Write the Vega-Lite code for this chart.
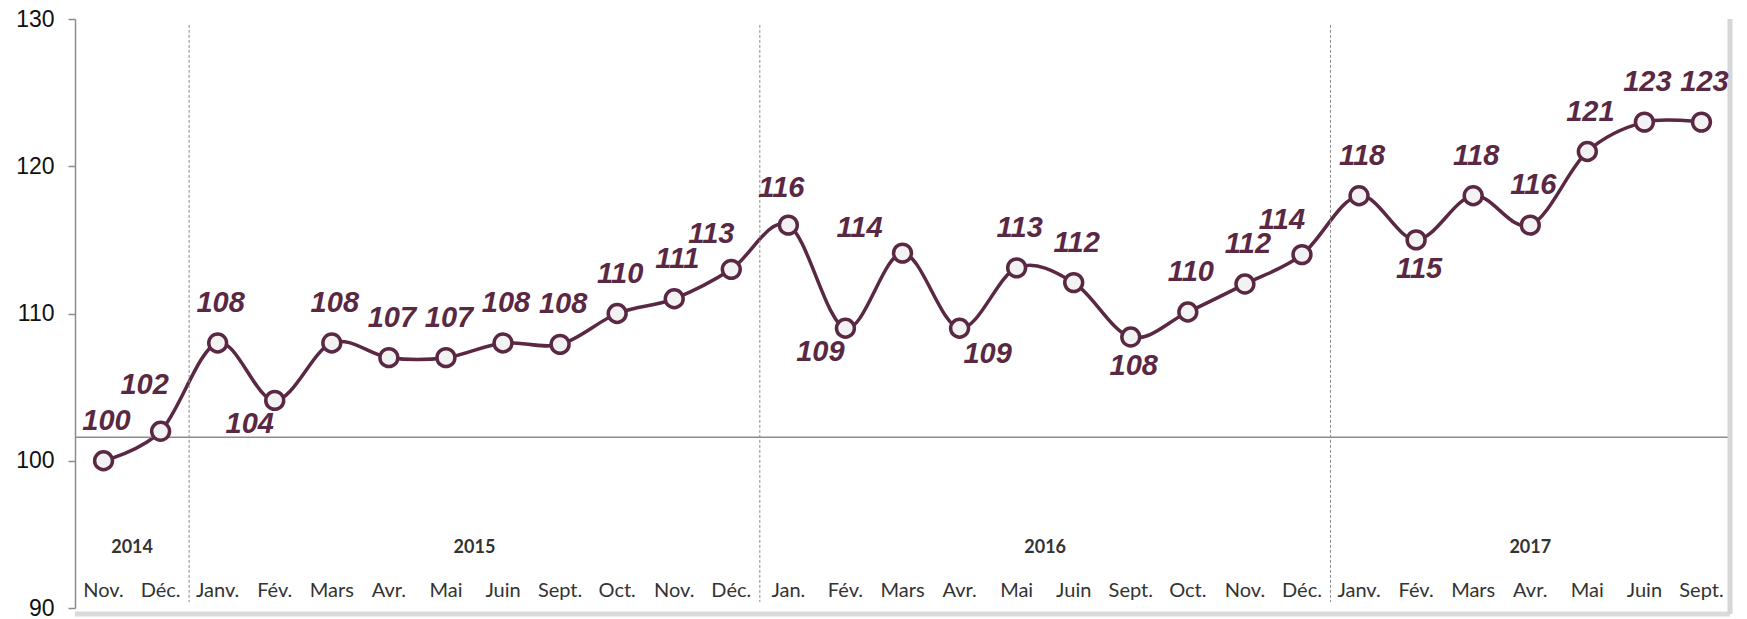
{
  "$schema": "https://vega.github.io/schema/vega-lite/v6.json",
  "width": 1655,
  "height": 589,
  "autosize": {"type": "none"},
  "padding": {"left": 75, "top": 19, "right": 17, "bottom": 11},
  "background": "white",
  "config": {
    "view": {"stroke": null},
    "text": {"font": "Liberation Sans", "fontSize": 29, "fontStyle": "italic", "fontWeight": "bold", "color": "#5a2843", "baseline": "middle", "align": "center"},
    "axisX": {"orient": "bottom", "title": null, "domain": false, "ticks": false, "tickSize": 0, "labelPadding": 0, "offset": -18,
              "labelBaseline": "middle", "labelAngle": 0, "labelFont": "Lato", "labelFontSize": 20, "labelColor": "#333333",
              "labelOverlap": false, "grid": false}
  },
  "datasets": {
    "indice": [
      {"periode": "Nov. 2014", "valeur": 100, "place": "haut"},
      {"periode": "Déc. 2014", "valeur": 102, "place": "haut-gauche-haut"},
      {"periode": "Janv. 2015", "valeur": 108, "place": "haut"},
      {"periode": "Fév. 2015", "valeur": 104.1, "place": "bas-gauche"},
      {"periode": "Mars 2015", "valeur": 108, "place": "haut"},
      {"periode": "Avr. 2015", "valeur": 107, "place": "haut"},
      {"periode": "Mai 2015", "valeur": 107, "place": "haut"},
      {"periode": "Juin 2015", "valeur": 108, "place": "haut"},
      {"periode": "Sept. 2015", "valeur": 107.9, "place": "haut"},
      {"periode": "Oct. 2015", "valeur": 110, "place": "haut"},
      {"periode": "Nov. 2015", "valeur": 111, "place": "haut"},
      {"periode": "Déc. 2015", "valeur": 113, "place": "haut-gauche"},
      {"periode": "Jan. 2016", "valeur": 116, "place": "haut-peu-gauche"},
      {"periode": "Fév. 2016", "valeur": 109, "place": "bas-gauche"},
      {"periode": "Mars 2016", "valeur": 114.1, "place": "gauche"},
      {"periode": "Avr. 2016", "valeur": 109, "place": "bas-droite"},
      {"periode": "Mai 2016", "valeur": 113.1, "place": "haut"},
      {"periode": "Juin 2016", "valeur": 112.1, "place": "haut"},
      {"periode": "Sept. 2016", "valeur": 108.4, "place": "bas"},
      {"periode": "Oct. 2016", "valeur": 110.1, "place": "haut"},
      {"periode": "Nov. 2016", "valeur": 112, "place": "haut"},
      {"periode": "Déc. 2016", "valeur": 114, "place": "haut-gauche"},
      {"periode": "Janv. 2017", "valeur": 118, "place": "haut"},
      {"periode": "Fév. 2017", "valeur": 115, "place": "bas"},
      {"periode": "Mars 2017", "valeur": 118, "place": "haut"},
      {"periode": "Avr. 2017", "valeur": 116, "place": "haut"},
      {"periode": "Mai 2017", "valeur": 121, "place": "haut"},
      {"periode": "Juin 2017", "valeur": 123, "place": "haut"},
      {"periode": "Sept. 2017", "valeur": 123, "place": "haut"}
    ],
    "annees": [
      {"annee": "2014", "debut": "Nov. 2014", "centre": "Déc. 2014", "fin": "Déc. 2014"},
      {"annee": "2015", "debut": "Janv. 2015", "centre": "Juin 2015", "fin": "Déc. 2015"},
      {"annee": "2016", "debut": "Jan. 2016", "centre": "Juin 2016", "fin": "Déc. 2016"},
      {"annee": "2017", "debut": "Janv. 2017", "centre": "Avr. 2017", "fin": "Sept. 2017"}
    ]
  },
  "layer": [
    {
      "data": {"name": "indice"},
      "mark": {"type": "line", "color": "#5a2843", "strokeWidth": 3.5, "interpolate": "cardinal"},
      "encoding": {
        "x": {"field": "periode", "type": "nominal",
              "scale": {"type": "band", "paddingInner": 0, "paddingOuter": 0,
                        "domain": ["Nov. 2014", "Déc. 2014", "Janv. 2015", "Fév. 2015", "Mars 2015", "Avr. 2015", "Mai 2015", "Juin 2015", "Sept. 2015", "Oct. 2015", "Nov. 2015", "Déc. 2015", "Jan. 2016", "Fév. 2016", "Mars 2016", "Avr. 2016", "Mai 2016", "Juin 2016", "Sept. 2016", "Oct. 2016", "Nov. 2016", "Déc. 2016", "Janv. 2017", "Fév. 2017", "Mars 2017", "Avr. 2017", "Mai 2017", "Juin 2017", "Sept. 2017"]},
              "axis": {"title": null, "labelExpr": "split(datum.label, ' ')[0]"}},
        "y": {"field": "valeur", "type": "quantitative",
              "scale": {"domain": [90, 130], "nice": false, "zero": false},
              "axis": {"title": null, "values": [90, 100, 110, 120, 130], "grid": false, "domainColor": "#8c8c8c", "domainWidth": 1.5,
                       "tickColor": "#8c8c8c", "tickWidth": 1.5, "tickSize": 7, "labelPadding": 14,
                       "labelFont": "Liberation Sans", "labelFontSize": 23, "labelColor": "#111111"}}
      }
    },
    {
      "data": {"values": [{}]},
      "mark": {"type": "rule", "color": "#8c8c8c", "strokeWidth": 1.5},
      "encoding": {"y": {"datum": 101.6, "type": "quantitative"}}
    },
    {
      "data": {"values": [{}]},
      "mark": {"type": "rule", "color": "#dadada", "strokeWidth": 5},
      "encoding": {"y": {"datum": 89.6, "type": "quantitative"}}
    },
    {
      "data": {"name": "annees"},
      "transform": [{"filter": "datum.annee === '2017'"}],
      "mark": {"type": "rule", "color": "#d6d6d6", "strokeWidth": 5},
      "encoding": {
        "x": {"field": "fin", "type": "nominal", "bandPosition": 1, "axis": {"title": null, "labelExpr": "split(datum.label, ' ')[0]"}},
        "y": {"datum": 130, "type": "quantitative"},
        "y2": {"datum": 89.6}
      }
    },
    {
      "data": {"name": "annees"},
      "transform": [{"filter": "datum.annee !== '2014'"}],
      "mark": {"type": "rule", "color": "#8c8c8c", "strokeWidth": 1, "strokeDash": [3, 2]},
      "encoding": {
        "x": {"field": "debut", "type": "nominal", "bandPosition": 0, "axis": {"title": null, "labelExpr": "split(datum.label, ' ')[0]"}},
        "y": {"datum": 129.6, "type": "quantitative"},
        "y2": {"datum": 90.4}
      }
    },
    {
      "data": {"name": "annees"},
      "transform": [{"filter": "datum.annee !== '2017'"}],
      "mark": {"type": "text", "font": "Lato", "fontSize": 18, "fontWeight": "bold", "fontStyle": "normal", "color": "#333333"},
      "encoding": {
        "x": {"field": "centre", "type": "nominal", "bandPosition": 0, "axis": {"title": null, "labelExpr": "split(datum.label, ' ')[0]"}},
        "y": {"datum": 94.1, "type": "quantitative"},
        "text": {"field": "annee"}
      }
    },
    {
      "data": {"name": "annees"},
      "transform": [{"filter": "datum.annee === '2017'"}],
      "mark": {"type": "text", "font": "Lato", "fontSize": 18, "fontWeight": "bold", "fontStyle": "normal", "color": "#333333"},
      "encoding": {
        "x": {"field": "centre", "type": "nominal", "bandPosition": 0.5, "axis": {"title": null, "labelExpr": "split(datum.label, ' ')[0]"}},
        "y": {"datum": 94.1, "type": "quantitative"},
        "text": {"field": "annee"}
      }
    },
    {
      "data": {"name": "indice"},
      "encoding": {
        "x": {"field": "periode", "type": "nominal", "axis": {"title": null, "labelExpr": "split(datum.label, ' ')[0]"}},
        "y": {"field": "valeur", "type": "quantitative"}
      },
      "layer": [
        {"mark": {"type": "point", "shape": "circle", "filled": true, "fill": "#f2f2f2", "stroke": "#5a2843", "strokeWidth": 3.5, "size": 320, "opacity": 1}},
        {"transform": [{"filter": "datum.place === 'haut'"}], "mark": {"type": "text", "dx": 3, "dy": -40}, "encoding": {"text": {"field": "valeur", "format": ".0f"}}},
        {"transform": [{"filter": "datum.place === 'haut-gauche'"}], "mark": {"type": "text", "dx": -20, "dy": -35}, "encoding": {"text": {"field": "valeur", "format": ".0f"}}},
        {"transform": [{"filter": "datum.place === 'haut-gauche-haut'"}], "mark": {"type": "text", "dx": -16, "dy": -46}, "encoding": {"text": {"field": "valeur", "format": ".0f"}}},
        {"transform": [{"filter": "datum.place === 'haut-peu-gauche'"}], "mark": {"type": "text", "dx": -7, "dy": -37}, "encoding": {"text": {"field": "valeur", "format": ".0f"}}},
        {"transform": [{"filter": "datum.place === 'gauche'"}], "mark": {"type": "text", "dx": -43, "dy": -25}, "encoding": {"text": {"field": "valeur", "format": ".0f"}}},
        {"transform": [{"filter": "datum.place === 'bas-gauche'"}], "mark": {"type": "text", "dx": -25, "dy": 24}, "encoding": {"text": {"field": "valeur", "format": ".0f"}}},
        {"transform": [{"filter": "datum.place === 'bas-droite'"}], "mark": {"type": "text", "dx": 28, "dy": 26}, "encoding": {"text": {"field": "valeur", "format": ".0f"}}},
        {"transform": [{"filter": "datum.place === 'bas'"}], "mark": {"type": "text", "dx": 3, "dy": 29}, "encoding": {"text": {"field": "valeur", "format": ".0f"}}}
      ]
    }
  ]
}
